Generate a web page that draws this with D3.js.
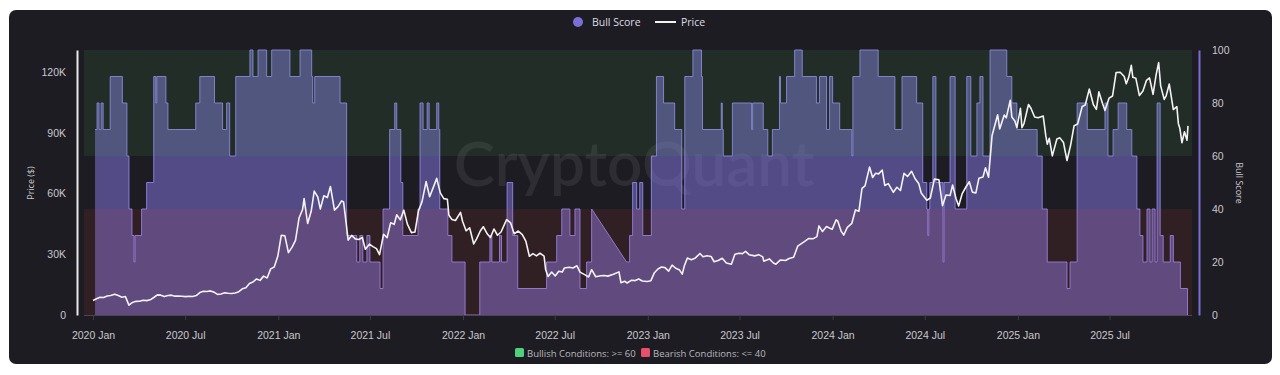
<!DOCTYPE html>
<html>
<head>
<meta charset="utf-8">
<script src="https://cdn.jsdelivr.net/npm/d3@7"></script>
<style>
  body { margin: 0; background: #fff; }
  svg { display: block; font-family: "Open Sans", "Noto Sans", sans-serif; }
</style>
</head>
<body>
<div id="chart"></div>
<script>
// Bull score: step changes [date, score]
const scoreSteps = [
  ["2020-01-05", 70], ["2020-01-09", 80], ["2020-01-13", 70], ["2020-01-17", 80], ["2020-01-21", 70],
  ["2020-02-04", 90], ["2020-02-28", 80], ["2020-03-08", 60], ["2020-03-12", 40], ["2020-03-18", 30],
  ["2020-03-22", 20], ["2020-03-24", 30], ["2020-04-06", 40], ["2020-04-16", 50], ["2020-04-30", 90],
  ["2020-05-04", 80], ["2020-05-06", 90], ["2020-05-24", 80], ["2020-05-28", 70], ["2020-07-22", 80],
  ["2020-07-30", 90], ["2020-08-28", 80], ["2020-09-13", 70], ["2020-09-21", 80], ["2020-09-27", 60],
  ["2020-10-09", 90], ["2020-11-06", 100], ["2020-11-12", 90], ["2020-11-22", 100], ["2020-12-09", 90],
  ["2020-12-19", 100], ["2021-01-24", 90], ["2021-02-13", 100], ["2021-03-08", 90], ["2021-03-10", 80],
  ["2021-03-14", 90], ["2021-05-03", 80], ["2021-05-16", 30], ["2021-06-05", 20], ["2021-06-11", 30],
  ["2021-06-17", 20], ["2021-06-25", 30], ["2021-07-01", 20], ["2021-07-21", 10], ["2021-07-27", 40],
  ["2021-08-09", 70], ["2021-08-19", 80], ["2021-08-23", 70], ["2021-08-31", 50], ["2021-09-04", 30],
  ["2021-10-04", 40], ["2021-10-08", 80], ["2021-10-14", 70], ["2021-10-22", 80], ["2021-10-26", 70],
  ["2021-11-10", 80], ["2021-11-14", 70], ["2021-11-16", 40], ["2021-12-02", 30], ["2021-12-10", 20],
  ["2022-01-05", 0], ["2022-02-03", 20], ["2022-02-23", 30], ["2022-02-27", 20], ["2022-03-14", 30],
  ["2022-03-18", 20], ["2022-03-29", 50], ["2022-04-09", 30], ["2022-04-19", 10], ["2022-06-15", 20],
  ["2022-07-05", 30], ["2022-07-15", 40], ["2022-07-31", 30], ["2022-08-10", 40], ["2022-08-20", 10],
  ["2022-09-02", 20], ["2022-09-12", 40], ["2022-11-20", 20], ["2022-11-26", 30], ["2022-12-02", 50],
  ["2022-12-10", 40], ["2022-12-16", 50], ["2022-12-22", 30], ["2023-01-08", 60], ["2023-01-18", 90],
  ["2023-02-01", 80], ["2023-02-23", 70], ["2023-03-09", 40], ["2023-03-15", 90], ["2023-03-31", 100],
  ["2023-04-17", 90], ["2023-04-19", 70], ["2023-05-26", 80], ["2023-05-28", 70], ["2023-05-30", 60],
  ["2023-06-17", 80], ["2023-07-25", 70], ["2023-07-27", 80], ["2023-08-17", 70], ["2023-08-26", 60],
  ["2023-09-04", 70], ["2023-09-18", 90], ["2023-09-20", 80], ["2023-10-02", 90], ["2023-10-18", 100],
  ["2023-11-02", 90], ["2023-11-30", 80], ["2023-12-06", 90], ["2023-12-20", 70], ["2023-12-26", 90],
  ["2024-01-01", 80], ["2024-01-15", 70], ["2024-02-08", 60], ["2024-02-10", 90], ["2024-02-24", 100],
  ["2024-03-31", 90], ["2024-05-03", 70], ["2024-05-17", 90], ["2024-06-15", 80], ["2024-06-27", 50],
  ["2024-07-05", 40], ["2024-07-07", 30], ["2024-07-09", 40], ["2024-07-11", 50], ["2024-07-17", 90],
  ["2024-07-23", 50], ["2024-08-06", 20], ["2024-08-08", 50], ["2024-08-20", 90], ["2024-08-30", 40],
  ["2024-09-22", 90], ["2024-09-30", 60], ["2024-10-12", 80], ["2024-10-18", 90], ["2024-10-24", 60],
  ["2024-11-07", 100], ["2024-12-10", 90], ["2024-12-20", 80], ["2024-12-30", 70], ["2025-02-08", 60],
  ["2025-02-18", 40], ["2025-02-28", 20], ["2025-04-08", 10], ["2025-04-14", 20], ["2025-04-28", 80],
  ["2025-05-18", 70], ["2025-06-22", 80], ["2025-06-28", 60], ["2025-07-08", 70], ["2025-07-18", 80],
  ["2025-08-04", 70], ["2025-08-14", 60], ["2025-08-24", 40], ["2025-08-30", 30], ["2025-09-05", 20],
  ["2025-09-13", 40], ["2025-09-19", 20], ["2025-09-23", 40], ["2025-09-29", 20], ["2025-10-03", 80],
  ["2025-10-09", 30], ["2025-10-15", 20], ["2025-10-29", 30], ["2025-11-04", 20], ["2025-11-18", 10],
  ["2025-12-02", 0]
];
// missing data: joined with a straight line from these dates
const scoreGaps = ["2022-09-12"];
const scoreEnd = "2025-12-03";

// BTC price [date, usd]
const priceSeries = [
  ["2020-01-01", 7200], ["2020-01-08", 8050], ["2020-01-15", 8800], ["2020-01-22", 8650], ["2020-01-29", 9400],
  ["2020-02-05", 9600], ["2020-02-13", 10300], ["2020-02-20", 9600], ["2020-02-27", 8800], ["2020-03-05", 9100],
  ["2020-03-12", 4900], ["2020-03-19", 6200], ["2020-03-26", 6750], ["2020-04-02", 6800], ["2020-04-09", 7300],
  ["2020-04-16", 7100], ["2020-04-23", 7500], ["2020-04-30", 8650], ["2020-05-07", 9950], ["2020-05-14", 9800],
  ["2020-05-21", 9100], ["2020-05-28", 9600], ["2020-06-04", 9800], ["2020-06-11", 9300], ["2020-06-18", 9400],
  ["2020-06-25", 9250], ["2020-07-02", 9100], ["2020-07-09", 9250], ["2020-07-16", 9150], ["2020-07-23", 9600],
  ["2020-07-30", 11100], ["2020-08-06", 11750], ["2020-08-13", 11600], ["2020-08-20", 11900], ["2020-08-27", 11300],
  ["2020-09-03", 10200], ["2020-09-10", 10350], ["2020-09-17", 10950], ["2020-09-24", 10750], ["2020-10-01", 10600],
  ["2020-10-08", 10900], ["2020-10-15", 11500], ["2020-10-22", 12950], ["2020-10-29", 13450], ["2020-11-05", 15600],
  ["2020-11-12", 16300], ["2020-11-19", 17800], ["2020-11-26", 17100], ["2020-12-03", 19200], ["2020-12-10", 18300],
  ["2020-12-17", 22800], ["2020-12-24", 23700], ["2020-12-31", 29000],
  ["2021-01-07", 39400], ["2021-01-14", 39100], ["2021-01-21", 30800], ["2021-01-28", 33400], ["2021-02-04", 36900],
  ["2021-02-11", 47900], ["2021-02-18", 52100], ["2021-02-21", 57500], ["2021-02-28", 45200], ["2021-03-07", 51200],
  ["2021-03-13", 61200], ["2021-03-20", 58300], ["2021-03-25", 52400], ["2021-04-01", 58900], ["2021-04-08", 58000],
  ["2021-04-14", 63500], ["2021-04-22", 51800], ["2021-04-29", 53500], ["2021-05-06", 56400], ["2021-05-10", 55800],
  ["2021-05-13", 49700], ["2021-05-19", 37000], ["2021-05-26", 39300], ["2021-06-02", 37600], ["2021-06-09", 37300],
  ["2021-06-16", 38300], ["2021-06-22", 32500], ["2021-06-30", 35000], ["2021-07-07", 33800], ["2021-07-14", 32800],
  ["2021-07-20", 29800], ["2021-07-28", 39900], ["2021-08-04", 38200], ["2021-08-11", 45600], ["2021-08-18", 44800],
  ["2021-08-23", 49500], ["2021-08-30", 47000], ["2021-09-06", 51800], ["2021-09-13", 44900], ["2021-09-21", 40700],
  ["2021-09-28", 41000], ["2021-10-05", 51500], ["2021-10-12", 56000], ["2021-10-20", 65900], ["2021-10-27", 58400],
  ["2021-11-03", 62900], ["2021-11-10", 67500], ["2021-11-17", 60300], ["2021-11-24", 57500], ["2021-12-01", 57200],
  ["2021-12-04", 49300], ["2021-12-10", 47200], ["2021-12-17", 46700], ["2021-12-27", 50700], ["2021-12-31", 46300],
  ["2022-01-07", 41600], ["2022-01-14", 43100], ["2022-01-22", 35100], ["2022-01-28", 37700], ["2022-02-04", 41500],
  ["2022-02-10", 43600], ["2022-02-18", 40000], ["2022-02-24", 38300], ["2022-03-03", 42500], ["2022-03-10", 39400],
  ["2022-03-17", 41000], ["2022-03-28", 47100], ["2022-04-05", 45500], ["2022-04-12", 40100], ["2022-04-20", 41500],
  ["2022-04-28", 39700], ["2022-05-05", 36500], ["2022-05-12", 29000], ["2022-05-19", 30300], ["2022-05-26", 29200],
  ["2022-06-02", 30500], ["2022-06-10", 29100], ["2022-06-13", 22500], ["2022-06-18", 19000], ["2022-06-25", 21200],
  ["2022-07-02", 19300], ["2022-07-09", 21600], ["2022-07-16", 21200], ["2022-07-20", 23200], ["2022-07-30", 23600],
  ["2022-08-06", 23200], ["2022-08-14", 24300], ["2022-08-20", 21200], ["2022-08-30", 19800], ["2022-09-06", 18800],
  ["2022-09-12", 22400], ["2022-09-20", 18900], ["2022-09-30", 19400], ["2022-10-07", 19500], ["2022-10-14", 19200],
  ["2022-10-25", 20100], ["2022-11-05", 21300], ["2022-11-09", 15900], ["2022-11-16", 16700], ["2022-11-21", 15800],
  ["2022-11-30", 17200], ["2022-12-07", 17000], ["2022-12-14", 17800], ["2022-12-21", 16800], ["2022-12-31", 16550],
  ["2023-01-07", 16950], ["2023-01-14", 20900], ["2023-01-21", 22700], ["2023-01-28", 23700], ["2023-02-04", 23400],
  ["2023-02-11", 21700], ["2023-02-18", 24600], ["2023-02-25", 23100], ["2023-03-04", 22400], ["2023-03-10", 20200],
  ["2023-03-14", 24200], ["2023-03-20", 28100], ["2023-03-28", 27300], ["2023-04-05", 28200], ["2023-04-14", 30400],
  ["2023-04-20", 28800], ["2023-04-28", 29300], ["2023-05-06", 28900], ["2023-05-12", 26300], ["2023-05-20", 26900],
  ["2023-05-28", 28000], ["2023-06-05", 25700], ["2023-06-15", 25100], ["2023-06-22", 30000], ["2023-06-30", 30500],
  ["2023-07-07", 30300], ["2023-07-13", 31400], ["2023-07-20", 29800], ["2023-07-31", 29200], ["2023-08-08", 29800],
  ["2023-08-16", 28700], ["2023-08-18", 26600], ["2023-08-29", 27700], ["2023-09-06", 25700], ["2023-09-11", 25100],
  ["2023-09-20", 27200], ["2023-09-30", 26900], ["2023-10-07", 27900], ["2023-10-16", 28500], ["2023-10-24", 34000],
  ["2023-11-01", 35400], ["2023-11-09", 36700], ["2023-11-15", 37800], ["2023-11-24", 37700], ["2023-12-01", 38700],
  ["2023-12-05", 44000], ["2023-12-12", 41200], ["2023-12-20", 43700], ["2023-12-31", 42300],
  ["2024-01-08", 47000], ["2024-01-11", 46500], ["2024-01-18", 41300], ["2024-01-23", 39500], ["2024-01-30", 43300],
  ["2024-02-08", 45300], ["2024-02-15", 51900], ["2024-02-22", 51300], ["2024-02-28", 62500], ["2024-03-05", 63800],
  ["2024-03-14", 73100], ["2024-03-20", 67900], ["2024-03-26", 70000], ["2024-04-01", 69700], ["2024-04-08", 71600],
  ["2024-04-13", 64000], ["2024-04-20", 64900], ["2024-04-30", 60600], ["2024-05-07", 63100], ["2024-05-14", 61500],
  ["2024-05-21", 70000], ["2024-05-28", 68400], ["2024-06-05", 71000], ["2024-06-12", 67300], ["2024-06-19", 65000],
  ["2024-06-24", 60300], ["2024-07-05", 56700], ["2024-07-12", 57800], ["2024-07-20", 67100], ["2024-07-29", 66800],
  ["2024-08-05", 54000], ["2024-08-12", 59300], ["2024-08-20", 59000], ["2024-08-25", 64200], ["2024-09-01", 57300],
  ["2024-09-06", 53900], ["2024-09-13", 60000], ["2024-09-20", 63100], ["2024-09-27", 65800], ["2024-10-03", 60700],
  ["2024-10-10", 60300], ["2024-10-16", 67600], ["2024-10-24", 68200], ["2024-10-29", 72700], ["2024-11-04", 68000],
  ["2024-11-11", 88700], ["2024-11-13", 90500], ["2024-11-22", 98900], ["2024-11-26", 91900], ["2024-12-05", 98800],
  ["2024-12-09", 97400], ["2024-12-17", 106100], ["2024-12-20", 97800], ["2024-12-26", 95800], ["2024-12-30", 92600],
  ["2025-01-06", 102100], ["2025-01-09", 92500], ["2025-01-13", 94500], ["2025-01-20", 102000], ["2025-01-22", 104000],
  ["2025-01-27", 102000], ["2025-02-03", 97800], ["2025-02-10", 97400], ["2025-02-20", 98300], ["2025-02-25", 88700],
  ["2025-02-28", 84400], ["2025-03-04", 87300], ["2025-03-10", 78600], ["2025-03-19", 86900], ["2025-03-25", 87500],
  ["2025-04-01", 85200], ["2025-04-08", 76300], ["2025-04-15", 83700], ["2025-04-22", 93500], ["2025-04-29", 94300],
  ["2025-05-08", 103000], ["2025-05-14", 103700], ["2025-05-22", 111600], ["2025-05-30", 104000], ["2025-06-05", 101600],
  ["2025-06-10", 110200], ["2025-06-17", 104600], ["2025-06-22", 101000], ["2025-06-30", 107100], ["2025-07-07", 108200],
  ["2025-07-14", 119800], ["2025-07-22", 119900], ["2025-07-30", 117800], ["2025-08-03", 114200], ["2025-08-08", 117500],
  ["2025-08-13", 123300], ["2025-08-16", 117400], ["2025-08-22", 116900], ["2025-08-29", 108400], ["2025-09-05", 110700],
  ["2025-09-12", 115900], ["2025-09-18", 117100], ["2025-09-25", 109000], ["2025-10-01", 118600], ["2025-10-06", 124700],
  ["2025-10-10", 113200], ["2025-10-17", 106500], ["2025-10-21", 108400], ["2025-10-27", 114100], ["2025-11-04", 101500],
  ["2025-11-11", 102900], ["2025-11-14", 94500], ["2025-11-17", 92100], ["2025-11-21", 85100], ["2025-11-26", 90500],
  ["2025-12-01", 86300], ["2025-12-03", 93400]
];

const priceTicks = [0, 30000, 60000, 90000, 120000];
const scoreTicks = [0, 20, 40, 60, 80, 100];
const zones = [
  { name: "Bullish Conditions: >= 60", from: 60, to: 100, color: "#4fd07a", fill: "rgba(76,175,80,0.12)" },
  { name: "Bearish Conditions: <= 40", from: 0, to: 40, color: "#e8506a", fill: "rgba(244,67,54,0.09)" }
];

const W = 1280, H = 375;
const plot = { left: 84, right: 1192, top: 50, bottom: 315 };
const parse = d3.utcParse("%Y-%m-%d");

const svg = d3.select("#chart").append("svg").attr("width", W).attr("height", H);

// card
svg.append("rect")
  .attr("x", 9).attr("y", 10).attr("width", 1263).attr("height", 354)
  .attr("rx", 7).attr("fill", "#1d1c22");

const x = d3.scaleUtc()
  .domain([parse("2020-01-01"), parse(scoreEnd)])
  .range([93, 1188]);
const yPrice = d3.scaleLinear().domain([0, 130900]).range([plot.bottom, plot.top]);
const yScore = d3.scaleLinear().domain([0, 100]).range([plot.bottom, plot.top]);

// watermark
svg.append("text")
  .attr("x", 634).attr("y", 186)
  .attr("text-anchor", "middle")
  .style("font-family", "Lato, 'Open Sans', sans-serif")
  .style("font-size", "62px")
  .style("font-weight", 600)
  .attr("fill", "rgba(255,255,255,0.08)")
  .text("CryptoQuant");

// step area for bull score (gaps are joined linearly)
const gapSet = new Set(scoreGaps);
const stepPts = [];
scoreSteps.forEach((d, i) => {
  if (i > 0 && !gapSet.has(scoreSteps[i - 1][0])) {
    stepPts.push([parse(d[0]), scoreSteps[i - 1][1]]);
  }
  stepPts.push([parse(d[0]), d[1]]);
});
stepPts.push([parse(scoreEnd), scoreSteps[scoreSteps.length - 1][1]]);

const area = d3.area()
  .x(d => x(d[0]))
  .y0(yScore(0))
  .y1(d => yScore(d[1]));
const line = d3.line()
  .x(d => x(d[0]))
  .y(d => yScore(d[1]));

svg.append("path")
  .datum(stepPts)
  .attr("d", area)
  .attr("fill", "rgba(135,122,232,0.5)");
svg.append("path")
  .datum(stepPts)
  .attr("d", line)
  .attr("fill", "none")
  .attr("stroke", "rgba(150,138,240,0.85)")
  .attr("stroke-width", 1);

// zone bands
svg.selectAll("rect.zone")
  .data(zones)
  .enter()
  .append("rect")
  .attr("class", "zone")
  .attr("x", plot.left)
  .attr("width", plot.right - plot.left)
  .attr("y", d => yScore(d.to))
  .attr("height", d => yScore(d.from) - yScore(d.to))
  .attr("fill", d => d.fill);

// price line
svg.append("path")
  .datum(priceSeries)
  .attr("d", d3.line().x(d => x(parse(d[0]))).y(d => yPrice(d[1])))
  .attr("fill", "none")
  .attr("stroke", "#f4f2f4")
  .attr("stroke-width", 1.6)
  .attr("stroke-linejoin", "round");

// axes
const textCol = "#c9c8ce";

const xAxis = svg.append("g")
  .attr("transform", `translate(0,${plot.bottom})`)
  .call(d3.axisBottom(x)
    .ticks(d3.utcMonth.every(6))
    .tickFormat(d3.utcFormat("%Y %b"))
    .tickSize(5)
    .tickSizeOuter(0));
xAxis.select(".domain").attr("d", `M${plot.left},0.5H${plot.right}`).attr("stroke", "#4a4752");
xAxis.selectAll(".tick line").attr("stroke", "#3e3c45");
xAxis.selectAll(".tick text").attr("fill", textCol).attr("dy", "1.55em").style("font-size", "10.5px");

const yl = svg.append("g")
  .attr("transform", "translate(77,0)")
  .call(d3.axisLeft(yPrice)
    .tickValues(priceTicks)
    .tickFormat(d => d === 0 ? "0" : (d / 1000) + "K")
    .tickSize(0)
    .tickPadding(11));
yl.select(".domain").attr("stroke", "#e8e8ea").attr("stroke-width", 2);
yl.selectAll(".tick text").attr("fill", textCol).style("font-size", "10.5px");

const yr = svg.append("g")
  .attr("transform", "translate(1199,0)")
  .call(d3.axisRight(yScore)
    .tickValues(scoreTicks)
    .tickSize(0)
    .tickPadding(13));
yr.select(".domain").attr("stroke", "#7a6dd0").attr("stroke-width", 2);
yr.selectAll(".tick text").attr("fill", textCol).style("font-size", "10.5px");

// axis titles
svg.append("text")
  .attr("transform", "translate(34,183) rotate(-90)")
  .attr("text-anchor", "middle")
  .attr("fill", textCol)
  .style("font-size", "9px")
  .text("Price ($)");
svg.append("text")
  .attr("transform", "translate(1236,183) rotate(90)")
  .attr("text-anchor", "middle")
  .attr("fill", textCol)
  .style("font-size", "9px")
  .text("Bull Score");

// top legend
const legTop = svg.append("g");
legTop.append("circle").attr("cx", 578).attr("cy", 22).attr("r", 5).attr("fill", "#7b6fd6");
legTop.append("text").attr("x", 592).attr("y", 26).attr("fill", "#dedde2").style("font-size", "10.5px").text("Bull Score");
legTop.append("line").attr("x1", 655).attr("x2", 676).attr("y1", 22).attr("y2", 22)
  .attr("stroke", "#f2f2f2").attr("stroke-width", 2);
legTop.append("text").attr("x", 681).attr("y", 26).attr("fill", "#dedde2").style("font-size", "10.5px").text("Price");

// bottom legend
const leg = svg.append("g").selectAll("g")
  .data(zones)
  .enter()
  .append("g")
  .attr("transform", (d, i) => `translate(${i === 0 ? 515 : 641},348)`);
leg.append("rect").attr("width", 9).attr("height", 9).attr("rx", 1.5).attr("fill", d => d.color);
leg.append("text").attr("x", 12).attr("y", 8.5).attr("fill", "#b9b8be").style("font-size", "9.5px").text(d => d.name);
</script>
</body>
</html>
